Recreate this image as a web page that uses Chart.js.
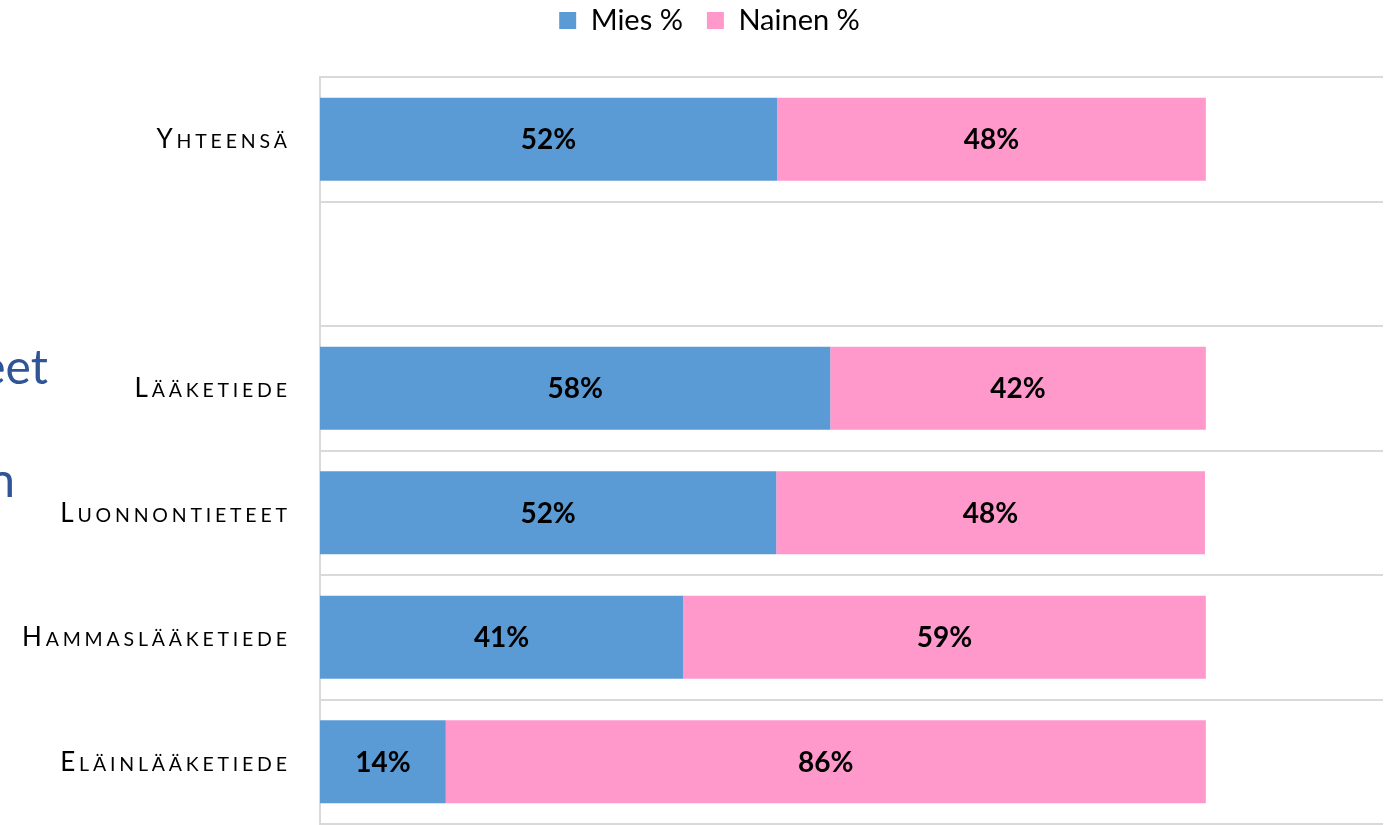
<!DOCTYPE html>
<html>
<head>
<meta charset="utf-8">
<script src="https://cdn.jsdelivr.net/npm/chart.js@4"></script>
<style>
  html, body { margin: 0; padding: 0; background: #fff; }
  #wrap { width: 1388px; height: 825px; }
</style>
</head>
<body>
<div id="wrap"><canvas id="chart"></canvas></div>
<script>
// categories (the empty one is a spacer row in the original)
const categories = ['Yhteensä', '', 'Lääketiede', 'Luonnontieteet', 'Hammaslääketiede', 'Eläinlääketiede'];
const seriesNames = ['Mies %', 'Nainen %'];
const miesPct = [51.6, null, 57.6, 51.5, 41.0, 14.2];
const nainenPct = [48.4, null, 42.4, 48.4, 59.0, 85.8];
// leftover bits of slide title text cut off at the left edge
const sideTexts = ['eet', 'n'];

const fontFamily = 'Lato, "Open Sans", sans-serif';

// draws category labels in small caps with letter spacing
const smallCapsLabels = {
    id: 'smallCapsLabels',
    afterDraw: function(chart) {
        const ctx = chart.ctx;
        const yScale = chart.scales.y;
        const big = 26, small = 19.5, spacing = 3.8;
        ctx.save();
        ctx.fillStyle = '#000';
        ctx.textBaseline = 'alphabetic';
        ctx.textAlign = 'left';
        categories.forEach(function(label, i) {
            if (!label) return;
            const y = yScale.getPixelForTick(i);
            let parts = [];
            for (let k = 0; k < label.length; k++) {
                const ch = label[k];
                const isCap = (k === 0 || label[k - 1] === ' ');
                parts.push({ ch: ch.toUpperCase(), size: isCap ? big : small });
            }
            let total = 0;
            parts.forEach(function(p) {
                ctx.font = p.size + 'px ' + fontFamily;
                p.w = ctx.measureText(p.ch).width;
                total += p.w + spacing;
            });
            total -= spacing;
            let x = chart.chartArea.left - 33 - total;
            parts.forEach(function(p) {
                ctx.font = p.size + 'px ' + fontFamily;
                ctx.fillText(p.ch, x, y + 9);
                x += p.w + spacing;
            });
        });
        ctx.restore();
    }
};

const barValueLabels = {
    id: 'barValueLabels',
    afterDatasetsDraw: function(chart) {
        const ctx = chart.ctx;
        ctx.save();
        ctx.font = 'bold 28px ' + fontFamily;
        ctx.fillStyle = '#000';
        ctx.textAlign = 'center';
        ctx.textBaseline = 'middle';
        chart.data.datasets.forEach(function(ds, di) {
            const meta = chart.getDatasetMeta(di);
            meta.data.forEach(function(bar, i) {
                const v = ds.data[i];
                if (v === null || v === undefined) return;
                const c = bar.getCenterPoint();
                ctx.fillText(Math.round(v) + '%', c.x, c.y + 1);
            });
        });
        ctx.restore();
    }
};

const sideText = {
    id: 'sideText',
    afterDraw: function(chart) {
        const ctx = chart.ctx;
        ctx.save();
        ctx.font = '48px ' + fontFamily;
        ctx.fillStyle = '#2F5597';
        ctx.textAlign = 'right';
        ctx.textBaseline = 'alphabetic';
        ctx.fillText(sideTexts[0], 48, 384);
        ctx.fillText(sideTexts[1], 15, 497);
        ctx.restore();
    }
};

// push the plot area down below the legend
const legendSpacer = {
    id: 'legendSpacer',
    beforeInit: function(chart) {
        const origFit = chart.legend.fit;
        chart.legend.fit = function() {
            origFit.bind(chart.legend)();
            this.height += 32;
        };
    }
};

const config = {
    type: 'bar',
    data: {
        labels: categories,
        datasets: [
            {
                label: seriesNames[0],
                data: miesPct,
                backgroundColor: '#5B9BD5',
                borderWidth: 0,
                categoryPercentage: 1,
                barPercentage: 0.667
            },
            {
                label: seriesNames[1],
                data: nainenPct,
                backgroundColor: '#FF99CC',
                borderWidth: 0,
                categoryPercentage: 1,
                barPercentage: 0.667
            }
        ]
    },
    options: {
        indexAxis: 'y',
        responsive: true,
        maintainAspectRatio: false,
        animation: false,
        layout: {
            padding: { left: 36, right: 5, top: -18, bottom: 1 }
        },
        scales: {
            x: {
                stacked: true,
                min: 0,
                max: 120,
                display: false
            },
            y: {
                stacked: true,
                afterFit: function(scale) { scale.width = 284; },
                ticks: { display: false },
                grid: {
                    color: '#d9d9d9',
                    lineWidth: 2,
                    drawTicks: false,
                    offset: true
                },
                border: { display: true, color: '#d9d9d9', width: 2 }
            }
        },
        plugins: {
            legend: {
                position: 'top',
                labels: {
                    boxWidth: 17,
                    boxHeight: 17,
                    padding: 24,
                    color: '#000',
                    font: { family: fontFamily, size: 29 }
                }
            },
            tooltip: { enabled: false }
        }
    },
    plugins: [legendSpacer, barValueLabels, smallCapsLabels, sideText]
};

window.statsChart = new Chart(document.getElementById('chart'), config);
</script>
</body>
</html>
